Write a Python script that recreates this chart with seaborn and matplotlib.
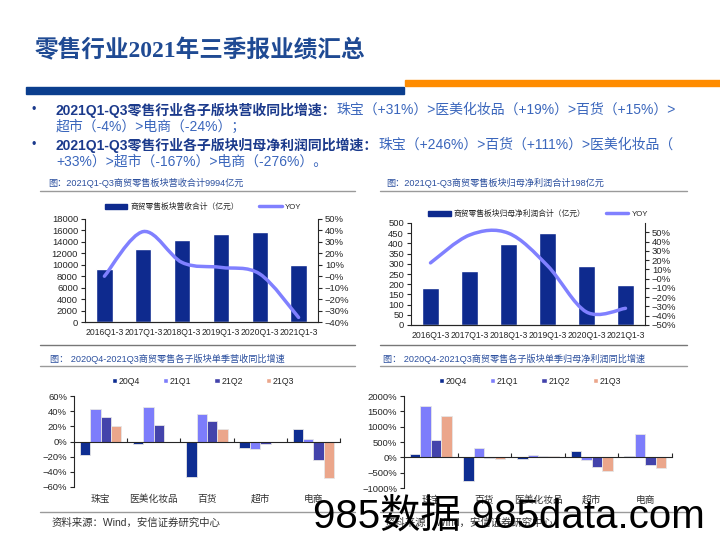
import numpy as np
import pandas as pd
import matplotlib
matplotlib.use("Agg")
import matplotlib.pyplot as plt
import seaborn as sns
from matplotlib.path import Path
from matplotlib.patches import PathPatch, Patch
from matplotlib.lines import Line2D
from matplotlib.ticker import PercentFormatter

# ---- data ----
years = ["2016Q1-3", "2017Q1-3", "2018Q1-3", "2019Q1-3", "2020Q1-3", "2021Q1-3"]
revenue = [9200, 12800, 14300, 15400, 15700, 9994]
revenue_yoy = [0.00, 0.39, 0.12, 0.077, 0.02, -0.36]
profit = [180, 265, 395, 450, 290, 198]
profit_yoy = [0.17, 0.47, 0.49, 0.14, -0.36, -0.32]

quarters = ["20Q4", "21Q1", "21Q2", "21Q3"]
rev_sectors = ["珠宝", "医美化妆品", "百货", "超市", "电商"]
rev_20q4 = [-0.18, -0.03, -0.47, -0.08, 0.16]
rev_21q1 = [0.43, 0.45, 0.36, -0.10, 0.03]
rev_21q2 = [0.32, 0.22, 0.27, -0.03, -0.24]
rev_21q3 = [0.20, -0.01, 0.16, -0.01, -0.48]

prof_sectors = ["珠宝", "百货", "医美化妆品", "超市", "电商"]
prof_20q4 = [1.00, -7.60, -0.40, 2.10, 0.40]
prof_21q1 = [16.8, 2.90, 0.90, -1.00, 7.60]
prof_21q2 = [5.75, -0.20, 0.40, -3.10, -2.50]
prof_21q3 = [13.6, -0.40, 0.40, -4.30, -3.50]

W, H = 720, 540
NAVY = "#0E2A8E"
YOY_C = "#8080FF"
Q_COLORS = ["#0E2D91", "#7D7DFB", "#4343AB", "#EBA68B"]
CAP_C = "#2B4F9E"

sns.set_style("white")
plt.rcParams["font.family"] = ["Liberation Sans", "Noto Sans CJK SC"]
plt.rcParams["axes.linewidth"] = 0.8

fig = plt.figure(figsize=(7.2, 5.4), dpi=100)


def px_axes(x0, y0, x1, y1):
    return fig.add_axes([x0 / W, 1 - y1 / H, (x1 - x0) / W, (y1 - y0) / H])


def fx(x):
    return x / W


def fy(y):
    return 1 - y / H


def smooth_path(xs, ys):
    # Catmull-Rom through the points, drawn as cubic beziers (like Excel smoothed lines)
    pts = np.column_stack([xs, ys]).astype(float)
    p = np.vstack([pts[0], pts, pts[-1]])
    verts = [pts[0]]
    codes = [Path.MOVETO]
    for i in range(1, len(p) - 2):
        c1 = p[i] + (p[i + 1] - p[i - 1]) / 6
        c2 = p[i + 1] - (p[i + 2] - p[i]) / 6
        verts += [c1, c2, p[i + 1]]
        codes += [Path.CURVE4] * 3
    return Path(verts, codes)


# ---- header ----
fig.text(fx(35), fy(51), "零售行业2021年三季报业绩汇总", fontsize=17, fontweight="bold",
         color="#1F4A93", va="center", family=["Liberation Serif", "Noto Sans CJK SC"])
fig.patches.append(plt.Rectangle((fx(26), fy(94)), fx(404 - 26), 7 / H, color="#0B3E8E",
                                 transform=fig.transFigure, figure=fig))
fig.patches.append(plt.Rectangle((fx(405), fy(86)), fx(720 - 405), 6 / H, color="#FF8C00",
                                 transform=fig.transFigure, figure=fig))

renderer = fig.canvas.get_renderer()


def rich_line(x, y, parts, size=10):
    for s, bold in parts:
        t = fig.text(fx(x), fy(y), s, fontsize=size, va="center",
                     fontweight="bold" if bold else "normal",
                     color="#1B3A8C" if bold else "#3A66BC")
        x += t.get_window_extent(renderer=renderer).width


for yb in (110, 145):
    fig.text(fx(32), fy(yb), "•", fontsize=9, color="#1B3A8C", va="center")
rich_line(56, 110, [("2021Q1-Q3零售行业各子版块营收同比增速：", True),
                    ("珠宝（+31%）>医美化妆品（+19%）>百货（+15%）>", False)])
rich_line(56, 127, [("超市（-4%）>电商（-24%）；", False)])
rich_line(56, 145, [("2021Q1-Q3零售行业各子版块归母净利润同比增速：", True),
                    ("珠宝（+246%）>百货（+111%）>医美化妆品（", False)])
rich_line(56, 162, [("+33%）>超市（-167%）>电商（-276%）。", False)])

# ---- captions and separator lines ----
captions = [(48, 183, "图：2021Q1-Q3商贸零售板块营收合计9994亿元"),
            (386, 183, "图：2021Q1-Q3商贸零售板块归母净利润合计198亿元"),
            (50, 359, "图： 2020Q4-2021Q3商贸零售各子版块单季营收同比增速"),
            (383, 359, "图： 2020Q4-2021Q3商贸零售各子版块单季归母净利润同比增速")]
for x, y, s in captions:
    fig.text(fx(x), fy(y), s, fontsize=6.6, color=CAP_C, va="center")

for x0, x1 in ((40, 355), (380, 687)):
    for y, c in ((191, "#9a9a9a"), (345, "#777777"), (366, "#9a9a9a"), (512, "#9a9a9a")):
        fig.add_artist(Line2D([fx(x0), fx(x1)], [fy(y), fy(y)], color=c, lw=1.0))

for x in (52, 385):
    fig.text(fx(x), fy(523), "资料来源：Wind，安信证券研究中心", fontsize=7.5, color="#333333", va="center")


# ---- top charts: bars + smoothed YOY line ----
def bar_line(box, vals, yoy, ylim, ystep, rlim, rticks, label, leg_xy, bw, colsp):
    ax = px_axes(*box)
    sns.barplot(x=years, y=vals, color=NAVY, saturation=1, width=bw, ax=ax)
    ax.set_xlim(-0.5, 5.5)
    ax.set_ylim(*ylim)
    ax.set_yticks(np.arange(ylim[0], ylim[1] + 1, ystep))
    ax.tick_params(axis="y", labelsize=6.8, length=3, direction="out", pad=2, left=True)
    ax.tick_params(axis="x", labelsize=6.2, length=0, pad=4)
    ax.spines["top"].set_visible(False)
    ax.spines["right"].set_visible(False)

    ax2 = ax.twinx()
    ax2.add_patch(PathPatch(smooth_path(np.arange(len(yoy)), yoy), fill=False,
                            edgecolor=YOY_C, lw=2.5, capstyle="round"))
    ax2.set_ylim(*rlim)
    ax2.set_yticks(rticks)
    ax2.yaxis.set_major_formatter(PercentFormatter(xmax=1, decimals=0))
    ax2.tick_params(axis="y", labelsize=6.8, length=3, direction="out", pad=2, right=True)
    ax2.spines["top"].set_visible(False)
    ax2.spines["left"].set_visible(False)

    handles = [Patch(color=NAVY, label=label),
               Line2D([], [], color=YOY_C, lw=2.5, label="YOY")]
    fig.legend(handles=handles, loc="center", bbox_to_anchor=(fx(leg_xy[0]), fy(leg_xy[1])),
               ncol=2, frameon=False, fontsize=5.6, handlelength=2.9, handleheight=0.7,
               columnspacing=colsp, handletextpad=0.4)


bar_line((85, 219, 318, 322), revenue, revenue_yoy, (0, 18000), 2000,
         (-0.4, 0.5), np.arange(-0.4, 0.51, 0.1), "商贸零售板块营收合计（亿元）", (203, 207), 0.42, 2.6)
bar_line((411, 223, 645, 325), profit, profit_yoy, (0, 500), 50,
         (-0.5, 0.6), np.arange(-0.5, 0.51, 0.1), "商贸零售板块归母净利润合计（亿元）", (538, 214), 0.45, 2.6)


# ---- bottom charts: grouped quarterly growth ----
def grouped(box, sectors, series, ylim, ystep, leg_x):
    df = pd.DataFrame({
        "sector": np.tile(sectors, len(quarters)),
        "quarter": np.repeat(quarters, len(sectors)),
        "value": np.concatenate(series),
    })
    ax = px_axes(*box)
    sns.barplot(data=df, x="sector", y="value", hue="quarter", order=sectors,
                hue_order=quarters, palette=Q_COLORS, saturation=1, width=0.78,
                edgecolor="#e6e6e6", linewidth=0.6, legend=False, ax=ax)
    ax.set_xlim(-0.5, 4.5)
    ax.set_ylim(*ylim)
    ax.set_yticks(np.arange(ylim[0], ylim[1] + ystep / 2, ystep))
    ax.yaxis.set_major_formatter(PercentFormatter(xmax=1, decimals=0))
    ax.tick_params(axis="y", labelsize=6.8, length=3, direction="out", pad=2, left=True)
    ax.set_xlabel("")
    ax.set_ylabel("")
    for s in ("top", "right"):
        ax.spines[s].set_visible(False)
    ax.spines["bottom"].set_position(("data", 0))
    ax.set_xticks(np.arange(0.5, 5, 1))
    ax.set_xticklabels([])
    ax.tick_params(axis="x", direction="in", length=3, bottom=True)

    sec = ax.secondary_xaxis(0.0)
    sec.set_xticks(range(len(sectors)), sectors)
    sec.tick_params(length=0, pad=5, labelsize=7, colors="#333333")
    sec.spines["bottom"].set_visible(False)

    handles = [Patch(facecolor=c, label=q) for q, c in zip(quarters, Q_COLORS)]
    fig.legend(handles=handles, loc="center", bbox_to_anchor=(fx(leg_x), fy(381)), ncol=4,
               frameon=False, fontsize=6.3, handlelength=0.6, handleheight=0.6,
               handletextpad=0.2, columnspacing=2.6)


grouped((74, 396, 340, 487), rev_sectors, [rev_20q4, rev_21q1, rev_21q2, rev_21q3],
        (-0.6, 0.6), 0.2, 203)
grouped((404, 396, 672, 488), prof_sectors, [prof_20q4, prof_21q1, prof_21q2, prof_21q3],
        (-10, 20), 5, 530)

# site watermark present on the slide
fig.text(fx(313), fy(528), "985数据 985data.com", fontsize=29, color="black", va="baseline")

fig.savefig("out.png", dpi=100)
